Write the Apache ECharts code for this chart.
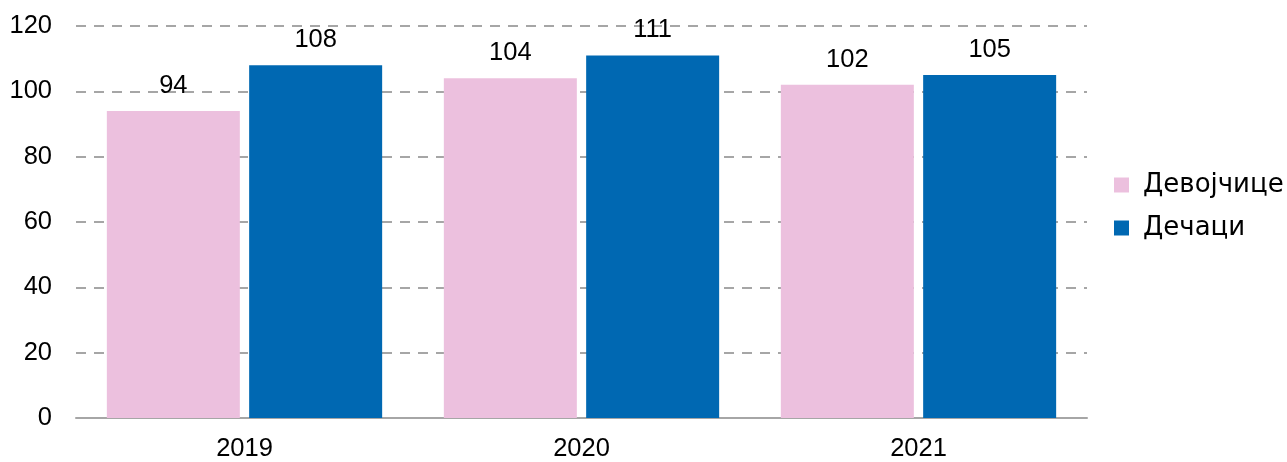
<!DOCTYPE html>
<html><head><meta charset="utf-8">
<script src="https://cdn.jsdelivr.net/npm/echarts@6/dist/echarts.min.js"></script>
<style>html,body{margin:0;padding:0;background:#fff}#c{width:1287px;height:462px}</style>
</head><body><div id="c"></div>
<script>
const categories = ['2019', '2020', '2021'];
const girls = [94, 104, 102];
const boys = [108, 111, 105];
const seriesNames = ['Девојчице', 'Дечаци'];
const yTicks = { min: 0, max: 120, interval: 20 };

const font = 'Liberation Sans, Arial, sans-serif';
const fs = 25.5;
const chart = echarts.init(document.getElementById('c'), null, { renderer: 'canvas' });
chart.setOption({
  animation: false,
  backgroundColor: '#fff',
  textStyle: { fontFamily: font },
  grid: { left: 76, right: 200, top: 26, bottom: 42 },
  legend: {
    orient: 'vertical', left: 1109, top: 167,
    itemWidth: 15, itemHeight: 15, itemGap: 17, icon: 'rect',
    data: seriesNames,
    textStyle: { fontSize: 26, color: '#000', fontFamily: 'DejaVu Sans', padding: [0, 0, 0, 9] }
  },
  xAxis: {
    type: 'category', data: categories,
    axisLine: { lineStyle: { color: '#A6A6A6', width: 2 } },
    axisTick: { show: false },
    axisLabel: { fontSize: fs, color: '#000', margin: 18, fontFamily: font }
  },
  yAxis: {
    type: 'value', min: yTicks.min, max: yTicks.max, interval: yTicks.interval,
    axisLine: { show: false }, axisTick: { show: false },
    axisLabel: { fontSize: fs, color: '#000', margin: 24, fontFamily: font },
    splitLine: { lineStyle: { color: '#A6A6A6', width: 2, type: [10, 8] } }
  },
  series: [
    { name: seriesNames[0], type: 'bar', data: girls, barWidth: 133, barGap: '7%',
      itemStyle: { color: '#ECC0DE' },
      label: { show: true, position: 'top', distance: 12, fontSize: fs, color: '#000', fontFamily: font } },
    { name: seriesNames[1], type: 'bar', data: boys, barWidth: 133, barGap: '7%',
      itemStyle: { color: '#0068B2' },
      label: { show: true, position: 'top', distance: 12, fontSize: fs, color: '#000', fontFamily: font } }
  ]
});
</script></body></html>
